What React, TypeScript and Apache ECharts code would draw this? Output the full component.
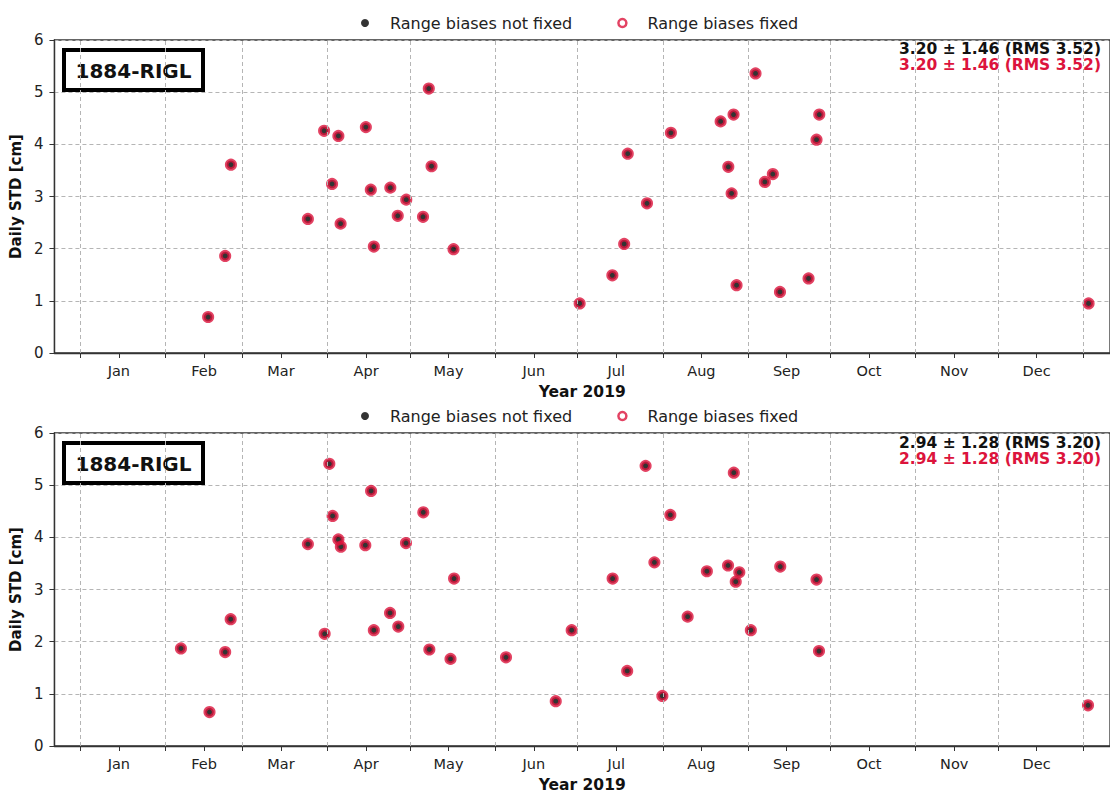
import React, { useEffect, useRef } from "react";
import * as echarts from "echarts";

// ---- data (day of year 2019, 0 = Jan 1) ----
const topDays = [46.5, 52.7, 54.8, 82.8, 88.7, 91.6, 93.9, 94.7, 103.9, 105.7, 106.8, 112.8, 115.5, 118.6, 124.7, 126.8, 127.8, 135.8, 181.7, 193.6, 197.9, 199.2, 206.2, 214.9, 233.0, 235.8, 237.0, 237.7, 238.8, 245.7, 249.1, 252.0, 254.6, 265.0, 267.9, 268.9, 366.9];
const topStd = [0.69, 1.86, 3.61, 2.57, 4.26, 3.24, 4.16, 2.48, 4.33, 3.13, 2.04, 3.17, 2.63, 2.94, 2.61, 5.07, 3.58, 1.99, 0.95, 1.49, 2.09, 3.82, 2.87, 4.22, 4.44, 3.57, 3.06, 4.57, 1.30, 5.36, 3.28, 3.43, 1.17, 1.43, 4.09, 4.57, 0.95];
const bottomDays = [36.6, 47.0, 52.7, 54.7, 82.8, 88.9, 90.6, 91.8, 93.9, 94.8, 103.7, 105.8, 106.8, 112.7, 115.7, 118.5, 124.8, 127.0, 134.7, 136.0, 154.9, 173.0, 178.8, 193.7, 199.0, 205.7, 208.9, 211.8, 214.7, 221.0, 228.0, 235.7, 237.8, 238.5, 239.8, 244.0, 254.7, 267.9, 268.8, 366.7];
const bottomStd = [1.87, 0.65, 1.80, 2.43, 3.87, 2.15, 5.41, 4.41, 3.96, 3.82, 3.85, 4.89, 2.22, 2.55, 2.29, 3.89, 4.48, 1.85, 1.67, 3.21, 1.70, 0.86, 2.22, 3.21, 1.44, 5.37, 3.52, 0.96, 4.43, 2.48, 3.35, 3.46, 5.24, 3.15, 3.33, 2.22, 3.44, 3.19, 1.82, 0.78];

const monthStartDays = [0, 31, 59, 90, 120, 151, 181, 212, 243, 273, 304, 334, 365];
const midMonthDays = [14, 45, 73, 104, 134, 165, 195, 226, 257, 287, 318, 348];
const monthNames = ["Jan", "Feb", "Mar", "Apr", "May", "Jun", "Jul", "Aug", "Sep", "Oct", "Nov", "Dec"];
const yTicks = [0, 1, 2, 3, 4, 5, 6];

const stationLabel = "1884-RIGL";
const statsTop = "3.20 \u00b1 1.46 (RMS 3.52)";
const statsBottom = "2.94 \u00b1 1.28 (RMS 3.20)";
const nameNotFixed = "Range biases not fixed";
const nameFixed = "Range biases fixed";
const xAxisTitle = "Year 2019";
const yAxisTitle = "Daily STD [cm]";

const RED = "#dc143c";
const FONT = "DejaVu Sans";
const X_MIN = -9.43;
const X_MAX = 374.7;

export default function App() {
  const ref = useRef<HTMLDivElement>(null);

  useEffect(() => {
    if (!ref.current) return;
    const chart = echarts.init(ref.current, null, { renderer: "svg" });

    const grids = [
      { left: 53, top: 40, right: -2, height: 313 },
      { left: 53, top: 433, right: -2, height: 315 },
    ];
    const datasets = [
      { days: topDays, std: topStd },
      { days: bottomDays, std: bottomStd },
    ];

    const series: any[] = [];
    datasets.forEach((d, i) => {
      const pts = d.days.map((x, k) => [x, d.std[k]]);
      series.push({
        type: "scatter",
        name: "grid" + i,
        xAxisIndex: i,
        yAxisIndex: i,
        data: [],
        z: 1,
        silent: true,
        markLine: {
          silent: true,
          symbol: ["none", "none"],
          label: { show: false },
          lineStyle: { type: [4, 3], color: "#b5b5b5", width: 1 },
          emphasis: { disabled: true },
          data: monthStartDays.map((v) => ({ xAxis: v })),
        },
      });
      series.push({
        type: "scatter",
        name: nameNotFixed,
        xAxisIndex: i,
        yAxisIndex: i,
        data: pts,
        symbol: "circle",
        symbolSize: 8.5,
        itemStyle: { color: "#000" },
        z: 3,
      });
      series.push({
        type: "scatter",
        name: nameFixed,
        xAxisIndex: i,
        yAxisIndex: i,
        data: pts,
        symbol: "circle",
        symbolSize: 8.5,
        itemStyle: { color: "rgba(0,0,0,0)", borderColor: RED, borderWidth: 3.6 },
        z: 4,
      });
    });

    const option: any = {
      animation: false,
      backgroundColor: "#fff",
      textStyle: { fontFamily: FONT },
      grid: grids.map((g) => ({ ...g, show: true, borderColor: "#333", borderWidth: 1.3, backgroundColor: "transparent" })),
      legend: [10, 403].map((top) => ({
        top,
        left: 356,
        itemWidth: 40,
        itemHeight: 8,
        itemGap: 45,
        selectedMode: false,
        textStyle: { fontSize: 16, color: "#222", fontFamily: FONT },
        data: [
          { name: nameNotFixed, icon: "circle", itemStyle: { color: "#000" } },
          { name: nameFixed, icon: "circle", itemStyle: { color: "rgba(0,0,0,0)", borderColor: RED, borderWidth: 2.5 } },
        ],
      })),
      xAxis: [0, 1].map((i) => ({
        type: "value",
        gridIndex: i,
        min: X_MIN,
        max: X_MAX,
        name: xAxisTitle,
        nameLocation: "middle",
        nameGap: 31,
        nameTextStyle: { fontWeight: "bold", fontSize: 15.5, color: "#111", fontFamily: FONT },
        axisLine: { show: true, onZero: false, lineStyle: { color: "#333", width: 1.3 } },
        axisTick: {
          show: true,
          length: 5,
          customValues: [...monthStartDays, ...midMonthDays].sort((a, b) => a - b),
          lineStyle: { color: "#333", width: 1 },
        },
        axisLabel: {
          customValues: midMonthDays,
          formatter: (v: number) => monthNames[midMonthDays.indexOf(Math.round(v))] || "",
          fontSize: 14.5,
          color: "#222",
          margin: 10,
          fontFamily: FONT,
        },
        splitLine: { show: false },
      })),
      yAxis: [0, 1].map((i) => ({
        type: "value",
        gridIndex: i,
        min: yTicks[0],
        max: yTicks[yTicks.length - 1],
        interval: 1,
        name: yAxisTitle,
        nameLocation: "middle",
        nameGap: 29,
        nameTextStyle: { fontWeight: "bold", fontSize: 15, color: "#111", fontFamily: FONT },
        axisLine: { show: true, onZero: false, lineStyle: { color: "#333", width: 1.3 } },
        axisTick: { show: true, length: 5, lineStyle: { color: "#333" } },
        axisLabel: { fontSize: 15, color: "#222", margin: 11, fontFamily: FONT },
        splitLine: { show: true, lineStyle: { type: [4, 3], color: "#b5b5b5", width: 1 } },
      })),
      graphic: [
        ...[70, 463].map((cy) => ({
          type: "group",
          z: 100,
          children: [
            {
              type: "rect",
              shape: { x: 64, y: cy - 20, width: 139, height: 40 },
              style: { fill: "#fff", stroke: "#000", lineWidth: 4 },
            },
            {
              type: "text",
              x: 133.5,
              y: cy + 1,
              style: {
                text: stationLabel,
                align: "center",
                verticalAlign: "middle",
                font: `bold 20px "${FONT}"`,
                fill: "#111",
              },
            },
          ],
        })),
        ...[
          { y: 49, text: statsTop, fill: "#111" },
          { y: 65, text: statsTop, fill: RED },
          { y: 443, text: statsBottom, fill: "#111" },
          { y: 459, text: statsBottom, fill: RED },
        ].map((t) => ({
          type: "text",
          x: 1101,
          y: t.y,
          z: 100,
          style: {
            text: t.text,
            align: "right",
            verticalAlign: "middle",
            font: `bold 15.5px "${FONT}"`,
            fill: t.fill,
          },
        })),
      ],
      series,
    };

    chart.setOption(option);
    return () => chart.dispose();
  }, []);

  return (
    <div
      ref={ref}
      style={{ position: "absolute", left: 0, top: 0, width: 1110, height: 794 }}
    />
  );
}
